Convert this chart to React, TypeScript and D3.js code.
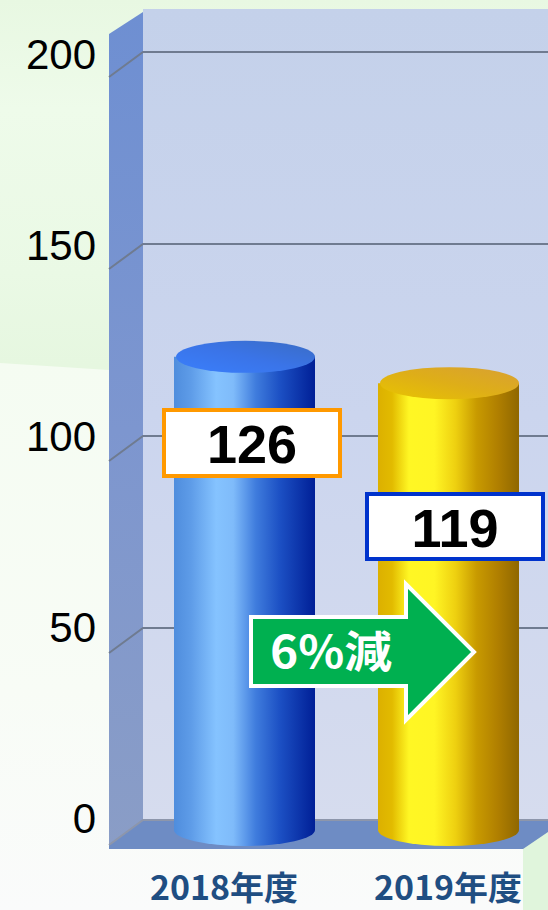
import React from 'react';
import * as d3 from 'd3';

const categories = ['2018年度', '2019年度'];
const values = [126, 119];
const yTicks = [0, 50, 100, 150, 200];
const arrowLabel = '6%減';

const WIDTH = 548;
const HEIGHT = 910;

// back wall plane, side wall is the same grid pushed forward
const y = d3.scaleLinear().domain([0, 200]).range([820, 52]);
const yLabel = d3.scaleLinear().domain([0, 200]).range([833, 69]);
// cylinders stand mid floor so they scale a little differently
const yBar = d3.scaleLinear().domain([0, 200]).range([830, 79]);
const x = d3.scaleBand<string>().domain(categories).range([174, 519]).paddingInner(63 / 204);

const wallLeft = 109;
const wallRight = 143;
const depth = 25;

const barColors = ['url(#blueBody)', 'url(#yellowBody)'];
const capColors = ['url(#blueCap)', 'url(#yellowCap)'];
const boxColors = ['#ff9900', '#0033cc'];
const boxTops = [410, 494];
const boxLefts = [164, 367];
const categoryCenters = [224, 448];

const sans = '"Liberation Sans", Arial, sans-serif';
const cjk = '"Noto Sans CJK JP", sans-serif';

const stops = (list: [number, string][]) =>
  list.map(([o, c]) => <stop key={o} offset={o} stopColor={c} />);

export default function App() {
  const rx = x.bandwidth() / 2;
  const ry = 16;

  return (
    <svg
      width={WIDTH}
      height={HEIGHT}
      style={{ position: 'absolute', left: 0, top: 0, display: 'block' }}
    >
      <defs>
        <linearGradient id="bgTop" x1="0" y1="0" x2="0" y2="1">
          {stops([[0, '#e8f8e2'], [0.12, '#eefbea'], [0.3, '#eaf9e5'], [0.4, '#e6f7e0'], [1, '#e4f7de']])}
        </linearGradient>
        <linearGradient id="bgLow" x1="0" y1="0" x2="0" y2="1">
          {stops([[0, '#f5fcf2'], [0.6, '#f8fcf6'], [1, '#fafbfb']])}
        </linearGradient>
        <linearGradient id="backWall" x1="0" y1="0" x2="0" y2="1">
          {stops([[0, '#c4d1ea'], [0.5, '#cbd5ee'], [1, '#d6dcee']])}
        </linearGradient>
        <linearGradient id="sideWall" x1="0" y1="0" x2="0" y2="1">
          {stops([[0, '#6e8fd2'], [0.5, '#7d96cf'], [1, '#8a9dc6']])}
        </linearGradient>
        <linearGradient id="blueBody" x1="0" y1="0" x2="1" y2="0">
          {stops([[0, '#4f8ddd'], [0.12, '#5e9ce8'], [0.3, '#85c3ff'], [0.42, '#7fbbfa'], [0.58, '#3f7cdd'], [0.75, '#1c50c4'], [1, '#001f96']])}
        </linearGradient>
        <linearGradient id="yellowBody" x1="0" y1="0" x2="1" y2="0">
          {stops([[0, '#dcb000'], [0.1, '#e2bb00'], [0.22, '#fff724'], [0.4, '#fff524'], [0.55, '#eed010'], [0.7, '#c89a00'], [0.85, '#b07f00'], [1, '#8f6700']])}
        </linearGradient>
        <linearGradient id="blueCap" x1="0" y1="1" x2="1" y2="0">
          {stops([[0, '#3a7ffc'], [0.5, '#3a74e8'], [1, '#3a6cc4']])}
        </linearGradient>
        <linearGradient id="yellowCap" x1="0" y1="1" x2="1" y2="0">
          {stops([[0, '#e8c400'], [0.5, '#deae18'], [1, '#d8a034']])}
        </linearGradient>
      </defs>

      {/* page background */}
      <rect width={WIDTH} height={HEIGHT} fill="url(#bgTop)" />
      <path d={`M0,363 L${wallLeft},370 H${WIDTH} V${HEIGHT} H0 Z`} fill="url(#bgLow)" />

      {/* walls and floor */}
      <rect x={wallRight} y={9} width={WIDTH - wallRight} height={y(0) - 9} fill="url(#backWall)" />
      <path
        d={`M${wallLeft},34 L${wallRight},12 V${y(0)} L${wallLeft},${y(0) + 29} Z`}
        fill="url(#sideWall)"
      />
      <path
        d={`M${wallRight},${y(0)} H${WIDTH} V849 H${wallLeft} V${y(0) + 25} Z`}
        fill="#6e8cc4"
      />

      {/* grid */}
      {yTicks.map((t) => (
        <path
          key={t}
          d={`M${wallLeft},${y(t) + depth} L${wallRight},${y(t)} H${WIDTH}`}
          fill="none"
          stroke={t === 0 ? '#8d96ab' : '#6f7b90'}
          strokeWidth={2}
        />
      ))}

      {/* tick labels */}
      {yTicks.map((t) => (
        <text
          key={t}
          x={96}
          y={yLabel(t)}
          textAnchor="end"
          fontFamily={sans}
          fontSize={42}
          fill="#000"
        >
          {t}
        </text>
      ))}

      {/* cylinders */}
      {categories.map((c, i) => {
        const left = x(c)!;
        const right = left + x.bandwidth();
        const top = yBar(values[i]);
        const base = yBar(0);
        return (
          <g key={c}>
            <path
              d={`M${left},${top} V${base} A${rx},${ry} 0 0 0 ${right},${base} V${top} Z`}
              fill={barColors[i]}
            />
            <ellipse cx={left + rx + 1} cy={top} rx={rx - 1} ry={ry} fill={capColors[i]} />
          </g>
        );
      })}

      {/* bottom right patch cuts the floor corner */}
      <path d={`M523,${HEIGHT} V849 L${WIDTH},832 V${HEIGHT} Z`} fill="#e0f5dc" />

      {/* value boxes */}
      {values.map((v, i) => (
        <g key={v}>
          <rect
            x={boxLefts[i]}
            y={boxTops[i]}
            width={176}
            height={i === 0 ? 66 : 65}
            fill="#fff"
            stroke={boxColors[i]}
            strokeWidth={4}
          />
          <text
            x={boxLefts[i] + 88}
            y={boxTops[i] + 53}
            textAnchor="middle"
            fontFamily={sans}
            fontWeight={700}
            fontSize={54}
            fill="#000"
          >
            {v}
          </text>
        </g>
      ))}

      {/* arrow */}
      <path
        d="M251,617 H406 V584 L474,652 L406,720 V686 H251 Z"
        fill="#00b050"
        stroke="#fff"
        strokeWidth={4}
      />
      <text
        x={270}
        y={668}
        fontFamily={cjk}
        fontWeight={700}
        fontSize={44}
        fill="#fff"
        textLength={122}
        lengthAdjust="spacingAndGlyphs"
      >
        {arrowLabel}
      </text>

      {/* category labels */}
      {categories.map((c, i) => (
        <text
          key={c}
          x={categoryCenters[i]}
          y={900}
          textAnchor="middle"
          fontFamily={cjk}
          fontWeight={700}
          fontSize={33}
          fill="#1f4e82"
          textLength={148}
          lengthAdjust="spacingAndGlyphs"
        >
          {c}
        </text>
      ))}
    </svg>
  );
}
